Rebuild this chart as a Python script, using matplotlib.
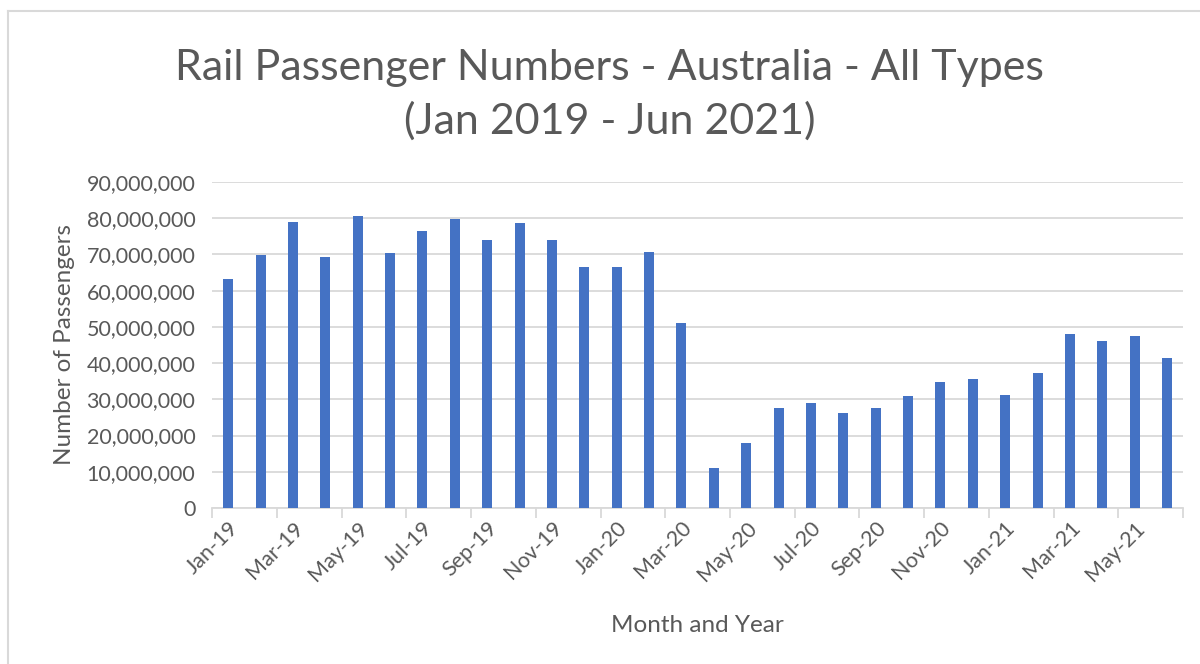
import matplotlib
matplotlib.use("Agg")
import matplotlib.pyplot as plt
from matplotlib.ticker import FuncFormatter, FixedLocator
from matplotlib.lines import Line2D

months = ["Jan-19", "Feb-19", "Mar-19", "Apr-19", "May-19", "Jun-19",
          "Jul-19", "Aug-19", "Sep-19", "Oct-19", "Nov-19", "Dec-19",
          "Jan-20", "Feb-20", "Mar-20", "Apr-20", "May-20", "Jun-20",
          "Jul-20", "Aug-20", "Sep-20", "Oct-20", "Nov-20", "Dec-20",
          "Jan-21", "Feb-21", "Mar-21", "Apr-21", "May-21", "Jun-21"]
passengers = [63.3, 69.7, 78.9, 69.2, 80.7, 70.3,
              76.4, 79.8, 74.1, 78.7, 74.1, 66.4,
              66.4, 70.6, 51.0, 10.9, 17.8, 27.5,
              29.1, 26.1, 27.7, 30.8, 34.9, 35.7,
              31.2, 37.2, 47.9, 46.0, 47.5, 41.5]
passengers = [v * 1e6 for v in passengers]

txt = "#595959"
grid = "#D9D9D9"
plt.rcParams["font.family"] = ["Lato", "DejaVu Sans"]

fig = plt.figure(figsize=(12, 6.64), dpi=100)
ax = fig.add_axes([0.1767, 0.235, 0.8093, 0.491])

x = list(range(len(months)))
ax.bar(x, passengers, width=0.31, color="#4472C4", zorder=3)

ax.set_xlim(-0.5, len(months) - 0.5)
ax.set_ylim(0, 90e6)
ax.set_yticks([i * 10e6 for i in range(10)])
ax.yaxis.set_major_formatter(FuncFormatter(lambda v, p: f"{int(v):,}"))
ax.grid(axis="y", color=grid, linewidth=1.3, zorder=0)
ax.tick_params(axis="y", length=0, pad=12, labelsize=15.5, labelcolor=txt)

# category labels every 2 months, tick marks on category boundaries
ax.set_xticks(x[::2])
ax.set_xticklabels(months[::2], rotation=45, ha="right", rotation_mode="anchor")
ax.tick_params(axis="x", length=0, pad=7, labelsize=15.5, labelcolor=txt)
ax.xaxis.set_minor_locator(FixedLocator([i - 0.5 for i in range(0, len(months) + 1, 2)]))
ax.tick_params(axis="x", which="minor", length=7, color=grid, width=1.3)

for s in ["top", "right", "left"]:
    ax.spines[s].set_visible(False)
ax.spines["bottom"].set_color(grid)
ax.spines["bottom"].set_linewidth(1.3)

ax.set_xlabel("Month and Year", fontsize=17.5, color=txt, labelpad=22)
ax.set_ylabel("Number of Passengers", fontsize=17.5, color=txt, labelpad=8)

fig.text(0.508, 0.857, "Rail Passenger Numbers - Australia - All Types\n(Jan 2019 - Jun 2021)",
         ha="center", va="center", fontsize=31, color=txt, linespacing=1.45)

# chart border (top and left visible in the frame)
fig.add_artist(Line2D([8 / 1200, 8 / 1200], [0, 1 - 11 / 664], transform=fig.transFigure,
                      color=grid, linewidth=1.5))
fig.add_artist(Line2D([8 / 1200, 1], [1 - 11 / 664, 1 - 11 / 664], transform=fig.transFigure,
                      color=grid, linewidth=1.5))

fig.savefig("out.png", dpi=100, facecolor="white")
